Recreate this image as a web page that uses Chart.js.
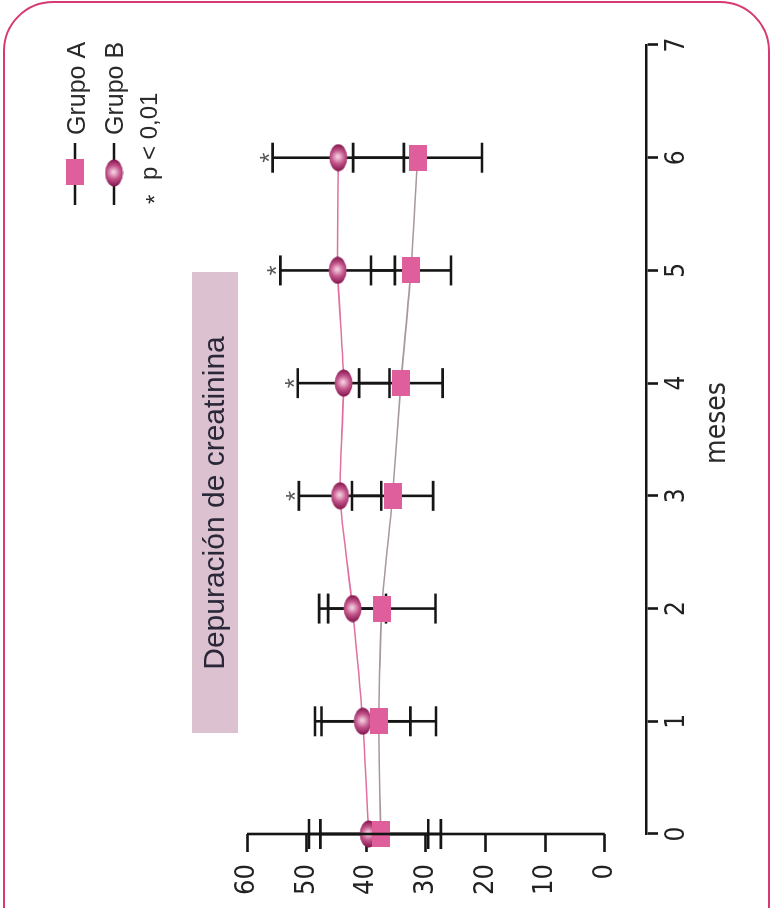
<!DOCTYPE html>
<html>
<head>
<meta charset="utf-8">
<script src="https://cdn.jsdelivr.net/npm/chart.js@4.4.1/dist/chart.umd.min.js"></script>
<style>
  html, body { margin: 0; padding: 0; background: #fff; overflow: hidden; width: 772px; height: 908px; }
  #marco { position: absolute; left: 3px; top: 1px; width: 767px; height: 1000px; border: 2px solid #d63a74; border-radius: 50px; box-sizing: border-box; }
  #giro { position: absolute; left: 0; top: 0; width: 908px; height: 772px; transform-origin: 0 0; transform: translateY(908px) rotate(-90deg); }
</style>
</head>
<body>
<div id="marco"></div>
<div id="giro"><canvas id="grafico" width="908" height="772"></canvas></div>
<script>
// datos
var meses = [0, 1, 2, 3, 4, 5, 6];
var grupoA = [37.6, 37.9, 37.4, 35.6, 34.2, 32.5, 31.4];
var sdA = [10.1, 9.6, 9.0, 6.8, 7.0, 6.7, 10.8];
var grupoB = [39.6, 40.6, 42.3, 44.4, 43.8, 44.8, 44.7];
var sdB = [10.0, 8.0, 5.6, 6.9, 7.7, 9.6, 11.0];
var signif = [false, false, false, true, true, true, true];
var ticksMeses = [0, 1, 2, 3, 4, 5, 6, 7];
var ticksValor = [0, 10, 20, 30, 40, 50, 60];

var narrow = "'Liberation Sans Narrow', 'DejaVu Sans Condensed', 'Roboto', sans-serif";
var normal = "'Liberation Sans', Arial, sans-serif";

// marcadores
function marcadorA() {
    var c = document.createElement('canvas');
    c.width = 26; c.height = 18;
    var g = c.getContext('2d');
    g.fillStyle = '#de5f9b';
    g.fillRect(0, 0, 26, 18);
    return c;
}
function marcadorB() {
    var c = document.createElement('canvas');
    c.width = 28; c.height = 19;
    var g = c.getContext('2d');
    var grad = g.createRadialGradient(15, 9, 1, 14, 9.5, 14);
    grad.addColorStop(0, '#f3c9dc');
    grad.addColorStop(0.45, '#c2548a');
    grad.addColorStop(1, '#7a0e45');
    g.fillStyle = grad;
    g.beginPath();
    g.ellipse(14, 9.5, 13.5, 9, 0, 0, Math.PI * 2);
    g.fill();
    return c;
}
var imgA = marcadorA();
var imgB = marcadorB();

function puntos(valores) {
    return meses.map(function (m, i) { return { x: m, y: valores[i] }; });
}

var barrasError = {
    id: 'barrasError',
    beforeDatasetsDraw: function (chart) {
        var ctx = chart.ctx;
        var xs = chart.scales.x, ys = chart.scales.y;
        var series = [[grupoA, sdA], [grupoB, sdB]];
        ctx.save();
        ctx.strokeStyle = '#151515';
        ctx.lineWidth = 2.6;
        series.forEach(function (s) {
            meses.forEach(function (m, i) {
                var x = xs.getPixelForValue(m);
                var y1 = ys.getPixelForValue(s[0][i] + s[1][i]);
                var y2 = ys.getPixelForValue(s[0][i] - s[1][i]);
                ctx.beginPath();
                ctx.moveTo(x, y1); ctx.lineTo(x, y2);
                ctx.moveTo(x - 15, y1); ctx.lineTo(x + 15, y1);
                ctx.moveTo(x - 15, y2); ctx.lineTo(x + 15, y2);
                ctx.stroke();
            });
        });
        // asteriscos de significacion
        ctx.fillStyle = '#555';
        ctx.font = '26px ' + normal;
        ctx.textAlign = 'center';
        ctx.textBaseline = 'alphabetic';
        meses.forEach(function (m, i) {
            if (!signif[i]) return;
            var x = xs.getPixelForValue(m);
            var y = ys.getPixelForValue(grupoB[i] + sdB[i]);
            ctx.fillText('*', x, y + 5);
        });
        ctx.restore();
    },
    afterDraw: function (chart) {
        var ctx = chart.ctx;
        var ys = chart.scales.y;
        var left = chart.chartArea.left;
        ctx.save();
        // eje de valores, solo de 0 a 60
        ctx.strokeStyle = '#151515';
        ctx.lineWidth = 2.6;
        ctx.beginPath();
        ctx.moveTo(left, ys.getPixelForValue(60));
        ctx.lineTo(left, ys.getPixelForValue(0));
        ctx.stroke();

        // titulo del eje x
        ctx.fillStyle = '#2a2a2a';
        ctx.font = '28px ' + narrow;
        ctx.textAlign = 'center';
        ctx.textBaseline = 'alphabetic';
        ctx.fillText('meses', 485, 725);

        // caja del titulo
        ctx.fillStyle = '#dcc1d0';
        ctx.fillRect(175, 192, 461, 46);
        ctx.fillStyle = '#2a2838';
        ctx.font = '30px ' + normal;
        ctx.textBaseline = 'middle';
        ctx.fillText('Depuración de creatinina', 405, 216);

        // leyenda
        ctx.lineWidth = 2.6;
        ctx.beginPath();
        ctx.moveTo(703, 75); ctx.lineTo(765, 75);
        ctx.moveTo(703, 114); ctx.lineTo(765, 114);
        ctx.stroke();
        ctx.drawImage(imgA, 736 - 13, 75 - 9);
        ctx.drawImage(imgB, 735 - 14, 114 - 9.5);
        ctx.fillStyle = '#2a2a2a';
        ctx.font = '25px ' + normal;
        ctx.textAlign = 'left';
        ctx.textBaseline = 'alphabetic';
        ctx.fillText('Grupo A', 773, 85);
        ctx.fillText('Grupo B', 773, 123);
        ctx.font = '24px ' + normal;
        ctx.fillText('*', 704, 163);
        ctx.fillText('p < 0,01', 728, 157);
        ctx.restore();
    }
};

var grafico = new Chart(document.getElementById('grafico'), {
    type: 'line',
    data: {
        datasets: [
            {
                label: 'Grupo A',
                data: puntos(grupoA),
                borderColor: '#a8979f',
                borderWidth: 1.6,
                pointStyle: imgA,
                tension: 0.2,
                clip: false,
                fill: false
            },
            {
                label: 'Grupo B',
                data: puntos(grupoB),
                borderColor: '#e0709f',
                borderWidth: 1.6,
                pointStyle: imgB,
                tension: 0.2,
                clip: false,
                fill: false
            }
        ]
    },
    options: {
        responsive: false,
        animation: false,
        devicePixelRatio: 1,
        layout: { padding: { top: 247, right: 45, left: 0, bottom: 0 } },
        plugins: {
            legend: { display: false },
            tooltip: { enabled: false }
        },
        scales: {
            x: {
                type: 'linear',
                min: 0,
                max: 7,
                afterBuildTicks: function (s) { s.ticks = ticksMeses.map(function (v) { return { value: v }; }); },
                afterFit: function (s) { s.height = 126; },
                grid: { drawOnChartArea: false, drawTicks: true, tickLength: 12, tickWidth: 2.6, color: '#151515' },
                border: { display: true, width: 2.6, color: '#151515' },
                ticks: { font: { family: narrow, size: 26 }, color: '#222', padding: 4, maxRotation: 0 }
            },
            y: {
                type: 'linear',
                min: -6.9,
                max: 60,
                afterBuildTicks: function (s) { s.ticks = ticksValor.map(function (v) { return { value: v }; }); },
                afterFit: function (s) { s.width = 74; },
                grid: { drawOnChartArea: false, drawTicks: true, tickLength: 18, tickWidth: 2.6, color: '#151515' },
                border: { display: false },
                ticks: { font: { family: narrow, size: 27 }, color: '#222', padding: 12 }
            }
        }
    },
    plugins: [barrasError]
});
</script>
</body>
</html>
